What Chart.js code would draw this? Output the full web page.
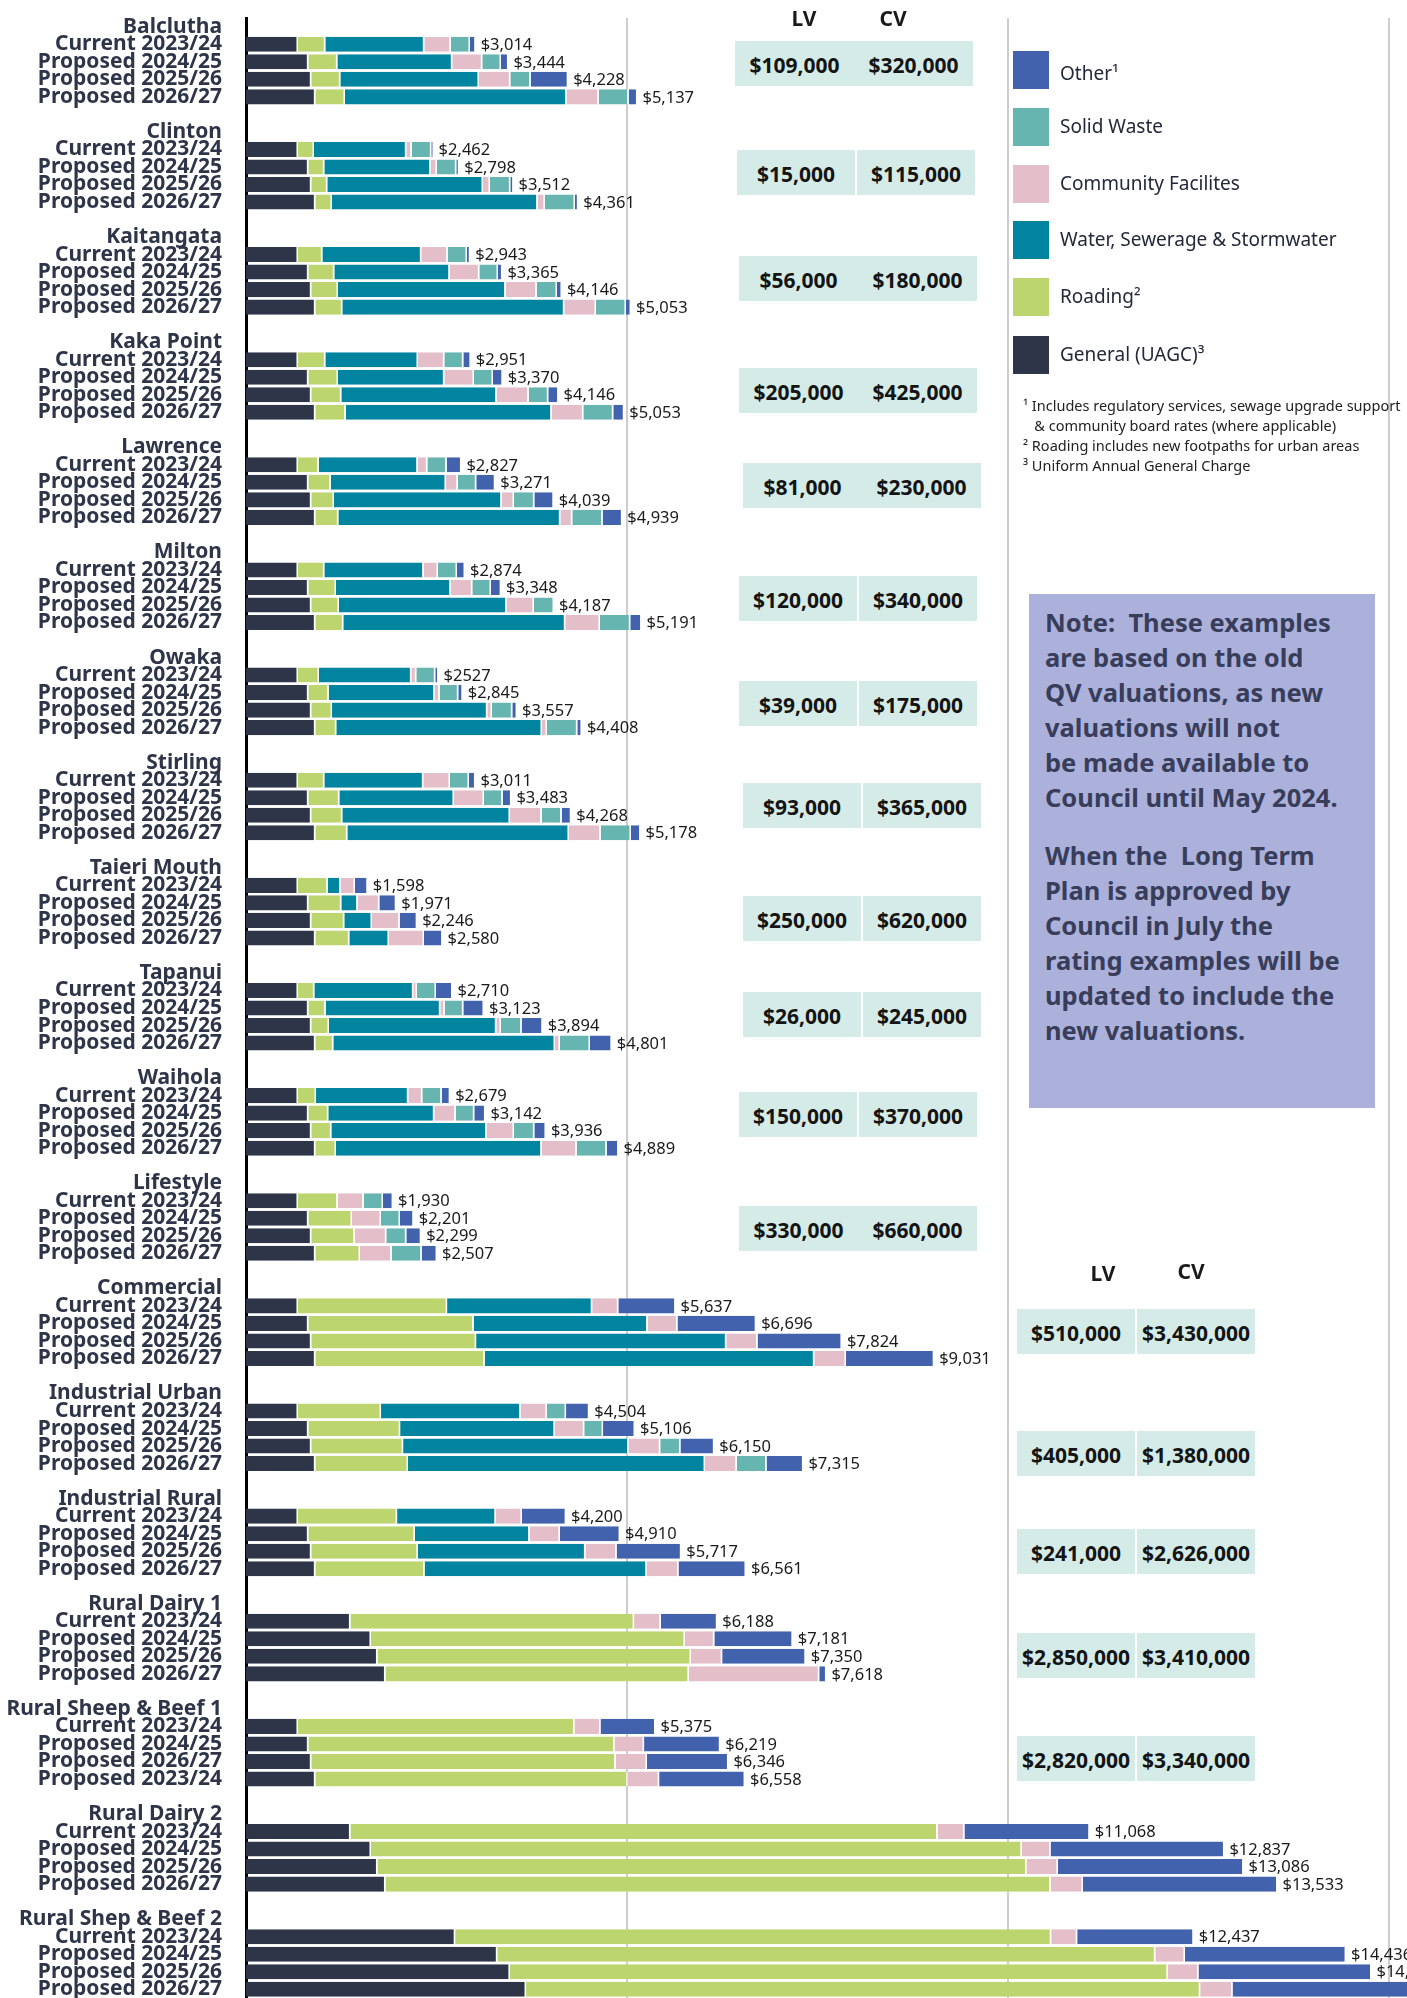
<!DOCTYPE html>
<html>
<head>
<meta charset="utf-8">
<script src="https://cdn.jsdelivr.net/npm/chart.js@4.4.1/dist/chart.umd.min.js"></script>
<style>
  html, body { margin: 0; padding: 0; background: #fff; overflow: hidden; }
  #wrap { position: relative; width: 1407px; height: 1998px; overflow: hidden; }
  #chart { position: absolute; left: 0; top: 0; }
  .sw { position: absolute; width: 36px; height: 38px; }
  .lg { position: absolute; font: 19px 'Noto Sans'; color: #23283a; white-space: nowrap; transform: translateY(-50%); }
  .fn { position: absolute; font: 14.5px 'Noto Sans'; color: #222; white-space: nowrap; transform: translateY(-50%); }
  .hdr { position: absolute; font: bold 21px 'Noto Sans'; color: #1a1a1a; transform: translate(-50%, -50%); }
  .box { position: absolute; width: 238px; height: 45px; display: flex; background: #d5ebe8; }
  .box.split { background: #fff; gap: 2px; }
  .cell { flex: 1; background: #d5ebe8; display: flex; align-items: center; justify-content: center;
          font: bold 21px 'Noto Sans'; color: #141414; padding-top: 3px; box-sizing: border-box; }
  #note { position: absolute; left: 1029px; top: 594px; width: 346px; height: 514px; background: #abb1da;
          box-sizing: border-box; padding: 11px 0 0 16px; font: bold 25.5px 'Noto Sans'; line-height: 35px;
          color: #383d5a; white-space: pre; }
  #note p { margin: 0 0 23px 0; }
</style>
</head>
<body>
<div id="wrap">
  <canvas id="chart" width="1407" height="1998"></canvas>
  <div id="note"><p>Note:  These examples
are based on the old
QV valuations, as new
valuations will not
be made available to
Council until May 2024.</p><p>When the  Long Term
Plan is approved by
Council in July the
rating examples will be
updated to include the
new valuations.</p></div>
</div>
<script>
const groups = ['Balclutha', 'Clinton', 'Kaitangata', 'Kaka Point', 'Lawrence', 'Milton', 'Owaka',
  'Stirling', 'Taieri Mouth', 'Tapanui', 'Waihola', 'Lifestyle', 'Commercial', 'Industrial Urban',
  'Industrial Rural', 'Rural Dairy 1', 'Rural Sheep & Beef 1', 'Rural Dairy 2', 'Rural Shep & Beef 2'];
const years = ['Current 2023/24', 'Proposed 2024/25', 'Proposed 2025/26', 'Proposed 2026/27'];
// the Sheep & Beef 1 block is labelled differently in the original
const yearsSheep1 = ['Current 2023/24', 'Proposed 2024/25', 'Proposed 2026/27', 'Proposed 2023/24'];

// four rows per group, in group order
const general = [
  682, 818, 857, 910,  682, 818, 857, 910,  682, 818, 857, 910,  682, 818, 857, 910,
  682, 818, 857, 910,  682, 818, 857, 910,  682, 818, 857, 910,  682, 818, 857, 910,
  682, 818, 857, 910,  682, 818, 857, 910,  682, 818, 857, 910,  682, 818, 857, 910,
  682, 818, 857, 910,  682, 818, 857, 910,  682, 818, 857, 910,  1370, 1640, 1725, 1830,
  682, 818, 857, 910,  1370, 1640, 1725, 1830,  2745, 3298, 3463, 3675
];
const roading = [
  359, 381, 381, 389,  210, 210, 210, 218,  320, 341, 350, 354,  359, 389, 394, 398,
  272, 293, 298, 302,  346, 363, 363, 367,  276, 267, 272, 275,  346, 407, 407, 420,
  390, 433, 433, 446,  215, 227, 232, 236,  237, 262, 263, 271,  521, 573, 569, 586,
  1957, 2169, 2163, 2222,  1090, 1205, 1205, 1216,  1301, 1398, 1398, 1433,  3723, 4120, 4114, 3982,
  3628, 4017, 3993, 4099,  7705, 8541, 8517, 8729,  7822, 8635, 8635, 8847
];
const water = [
  1299, 1508, 1819, 2909,  1212, 1395, 2043, 2699,  1299, 1514, 2200, 2913,  1216, 1396, 2038, 2703,
  1299, 1513, 2200, 2913,  1303, 1505, 2200, 2913,  1212, 1391, 2038, 2699,  1299, 1504, 2200, 2908,
  170, 214, 363, 520,  1299, 1505, 2196, 2909,  1211, 1391, 2038, 2699,  0, 0, 0, 0,
  1904, 2283, 3283, 4326,  1831, 2030, 2958, 3898,  1295, 1506, 2199, 2916,  0, 0, 0, 0,
  0, 0, 0, 0,  0, 0, 0, 0,  0, 0, 0, 0
];
const community = [
  346, 394, 412, 420,  70, 83, 92, 96,  345, 389, 407, 416,  346, 389, 420, 416,
  127, 154, 162, 157,  188, 284, 359, 455,  65, 65, 61, 66,  350, 394, 416, 416,
  188, 285, 363, 460,  48, 57, 61, 65,  184, 280, 359, 459,  341, 380, 415, 415,
  343, 392, 410, 415,  344, 386, 416, 416,  343, 397, 409, 416,  350, 386, 410, 1711,
  342, 389, 412, 413,  353, 377, 412, 424,  341, 389, 401, 424
];
const solidWaste = [
  253, 245, 266, 393,  258, 254, 267, 394,  254, 245, 267, 393,  249, 249, 258, 393,
  253, 244, 267, 398,  250, 245, 263, 398,  249, 245, 267, 398,  249, 245, 262, 398,
  0, 0, 0, 0,  249, 245, 271, 394,  254, 245, 267, 394,  254, 250, 263, 394,
  0, 0, 0, 0,  253, 247, 265, 391,  0, 0, 0, 0,  0, 0, 0, 0,
  0, 0, 0, 0,  0, 0, 0, 0,  0, 0, 0, 0
];
const other = [
  75, 98, 493, 116,  30, 38, 43, 44,  43, 58, 65, 67,  99, 129, 135, 144,
  194, 249, 255, 259,  105, 133, 0, 148,  43, 59, 62, 60,  85, 115, 126, 126,
  168, 221, 230, 244,  217, 271, 277, 287,  111, 146, 152, 156,  132, 180, 195, 202,
  752, 1033, 1107, 1158,  305, 419, 445, 484,  580, 790, 850, 886,  742, 1030, 1097, 94,
  722, 1000, 1069, 1127,  1644, 2282, 2437, 2554,  1529, 2114, 2271, 2404
];
const totalLabels = [
  '$3,014', '$3,444', '$4,228', '$5,137',  '$2,462', '$2,798', '$3,512', '$4,361',
  '$2,943', '$3,365', '$4,146', '$5,053',  '$2,951', '$3,370', '$4,146', '$5,053',
  '$2,827', '$3,271', '$4,039', '$4,939',  '$2,874', '$3,348', '$4,187', '$5,191',
  '$2527', '$2,845', '$3,557', '$4,408',  '$3,011', '$3,483', '$4,268', '$5,178',
  '$1,598', '$1,971', '$2,246', '$2,580',  '$2,710', '$3,123', '$3,894', '$4,801',
  '$2,679', '$3,142', '$3,936', '$4,889',  '$1,930', '$2,201', '$2,299', '$2,507',
  '$5,637', '$6,696', '$7,824', '$9,031',  '$4,504', '$5,106', '$6,150', '$7,315',
  '$4,200', '$4,910', '$5,717', '$6,561',  '$6,188', '$7,181', '$7,350', '$7,618',
  '$5,375', '$6,219', '$6,346', '$6,558',  '$11,068', '$12,837', '$13,086', '$13,533',
  '$12,437', '$14,436', '$14,770', '$15,350'
];

const lvUpper = ['$109,000', '$15,000', '$56,000', '$205,000', '$81,000', '$120,000', '$39,000',
  '$93,000', '$250,000', '$26,000', '$150,000', '$330,000'];
const cvUpper = ['$320,000', '$115,000', '$180,000', '$425,000', '$230,000', '$340,000', '$175,000',
  '$365,000', '$620,000', '$245,000', '$370,000', '$660,000'];
const lvLower = ['$510,000', '$405,000', '$241,000', '$2,850,000', '$2,820,000'];
const cvLower = ['$3,430,000', '$1,380,000', '$2,626,000', '$3,410,000', '$3,340,000'];

const footnotes = ['\u00b9 Includes regulatory services, sewage upgrade support',
  '   & community board rates (where applicable)',
  '\u00b2 Roading includes new footpaths for urban areas',
  '\u00b3 Uniform Annual General Charge'];

// category slots: group title, four year rows, spacer
const labels = [];
const rowSlot = [];
groups.forEach((g, gi) => {
  labels.push(g);
  (gi === 16 ? yearsSheep1 : years).forEach(y => { rowSlot.push(labels.length); labels.push(y); });
  if (gi < groups.length - 1) labels.push('');
});

function toSlots(values) {
  const out = labels.map(() => null);
  values.forEach((v, i) => { out[rowSlot[i]] = v; });
  return out;
}

const series = [
  { label: 'General (UAGC)\u00b3', data: general, color: '#2e3549' },
  { label: 'Roading\u00b2', data: roading, color: '#bdd56e' },
  { label: 'Water, Sewerage & Stormwater', data: water, color: '#0084a0' },
  { label: 'Community Facilites', data: community, color: '#e4bfca' },
  { label: 'Solid Waste', data: solidWaste, color: '#66b5b0' },
  { label: 'Other\u00b9', data: other, color: '#4262ad' }
];

const totalsPlugin = {
  id: 'totals',
  afterDatasetsDraw(chart) {
    const ctx = chart.ctx;
    const last = chart.getDatasetMeta(chart.data.datasets.length - 1);
    ctx.save();
    ctx.font = '16.5px "Noto Sans"';
    ctx.fillStyle = '#1a1a1a';
    ctx.textBaseline = 'middle';
    rowSlot.forEach((slot, i) => {
      const bar = last.data[slot];
      ctx.fillText(totalLabels[i], bar.x + 5, bar.y + 1);
    });
    ctx.restore();
  }
};

const chart = new Chart(document.getElementById('chart'), {
  type: 'bar',
  data: {
    labels,
    datasets: series.map(s => ({
      label: s.label,
      data: toSlots(s.data),
      backgroundColor: s.color,
      borderColor: '#ffffff',
      borderWidth: { top: 0, bottom: 0, left: 0, right: 1.5 },
      borderSkipped: false,
      barPercentage: 0.86,
      categoryPercentage: 1
    }))
  },
  options: {
    indexAxis: 'y',
    responsive: false,
    animation: false,
    devicePixelRatio: 1,
    layout: { padding: { top: 18, right: 0, bottom: 0, left: 0 } },
    plugins: { legend: { display: false }, tooltip: { enabled: false } },
    scales: {
      x: {
        stacked: true, min: 0, max: 15236,
        ticks: { display: false },
        border: { display: false },
        grid: { color: '#cdcdcd', lineWidth: 2, drawTicks: false },
        afterBuildTicks: s => { s.ticks = [5000, 10000, 15000].map(v => ({ value: v })); },
        afterFit: s => { s.height = 0; s.paddingLeft = 0; s.paddingRight = 0; }
      },
      y: {
        stacked: true,
        ticks: { autoSkip: false, padding: 24, color: '#2e3549',
                 font: { family: "'Noto Sans'", size: 21, weight: 'bold' } },
        grid: { display: false, drawTicks: false },
        border: { display: true, color: '#000', width: 3 },
        afterFit: s => { s.width = 246; s.paddingTop = 0; s.paddingBottom = 0; }
      }
    }
  },
  plugins: [totalsPlugin]
});

// legend, footnotes and valuation tables
const wrap = document.getElementById('wrap');
function add(cls, text, left, top, extra) {
  const d = document.createElement('div');
  d.className = cls;
  d.textContent = text;
  d.style.left = left + 'px';
  d.style.top = top + 'px';
  if (extra) Object.assign(d.style, extra);
  wrap.appendChild(d);
  return d;
}

const legendTops = [51, 108, 165, 221, 278, 336];
series.slice().reverse().forEach((s, i) => {
  add('sw', '', 1013, legendTops[i], { background: s.color });
  add('lg', s.label, 1060, legendTops[i] + (i === 0 ? 22 : 18));
});
[405, 425, 445, 465].forEach((t, i) => add('fn', footnotes[i], 1023, t, { whiteSpace: 'pre' }));

add('hdr', 'LV', 804, 18);
add('hdr', 'CV', 893, 18);
add('hdr', 'LV', 1103, 1273);
add('hdr', 'CV', 1191, 1271);

function addBox(left, top, lv, cv, split) {
  const b = add('box' + (split ? ' split' : ''), '', left, top);
  [lv, cv].forEach(t => {
    const c = document.createElement('span');
    c.className = 'cell';
    c.textContent = t;
    b.appendChild(c);
  });
}
const upperBoxes = [[735, 41, 0], [737, 150, 1], [739, 256, 0], [739, 368, 0], [743, 463, 0], [739, 576, 1],
  [739, 681, 1], [743, 783, 1], [743, 896, 1], [743, 992, 1], [739, 1092, 1], [739, 1206, 0]];
upperBoxes.forEach((b, i) => addBox(b[0], b[1], lvUpper[i], cvUpper[i], b[2]));
[1309, 1431, 1529, 1633, 1736].forEach((t, i) => addBox(1017, t, lvLower[i], cvLower[i], 1));
</script>
</body>
</html>
